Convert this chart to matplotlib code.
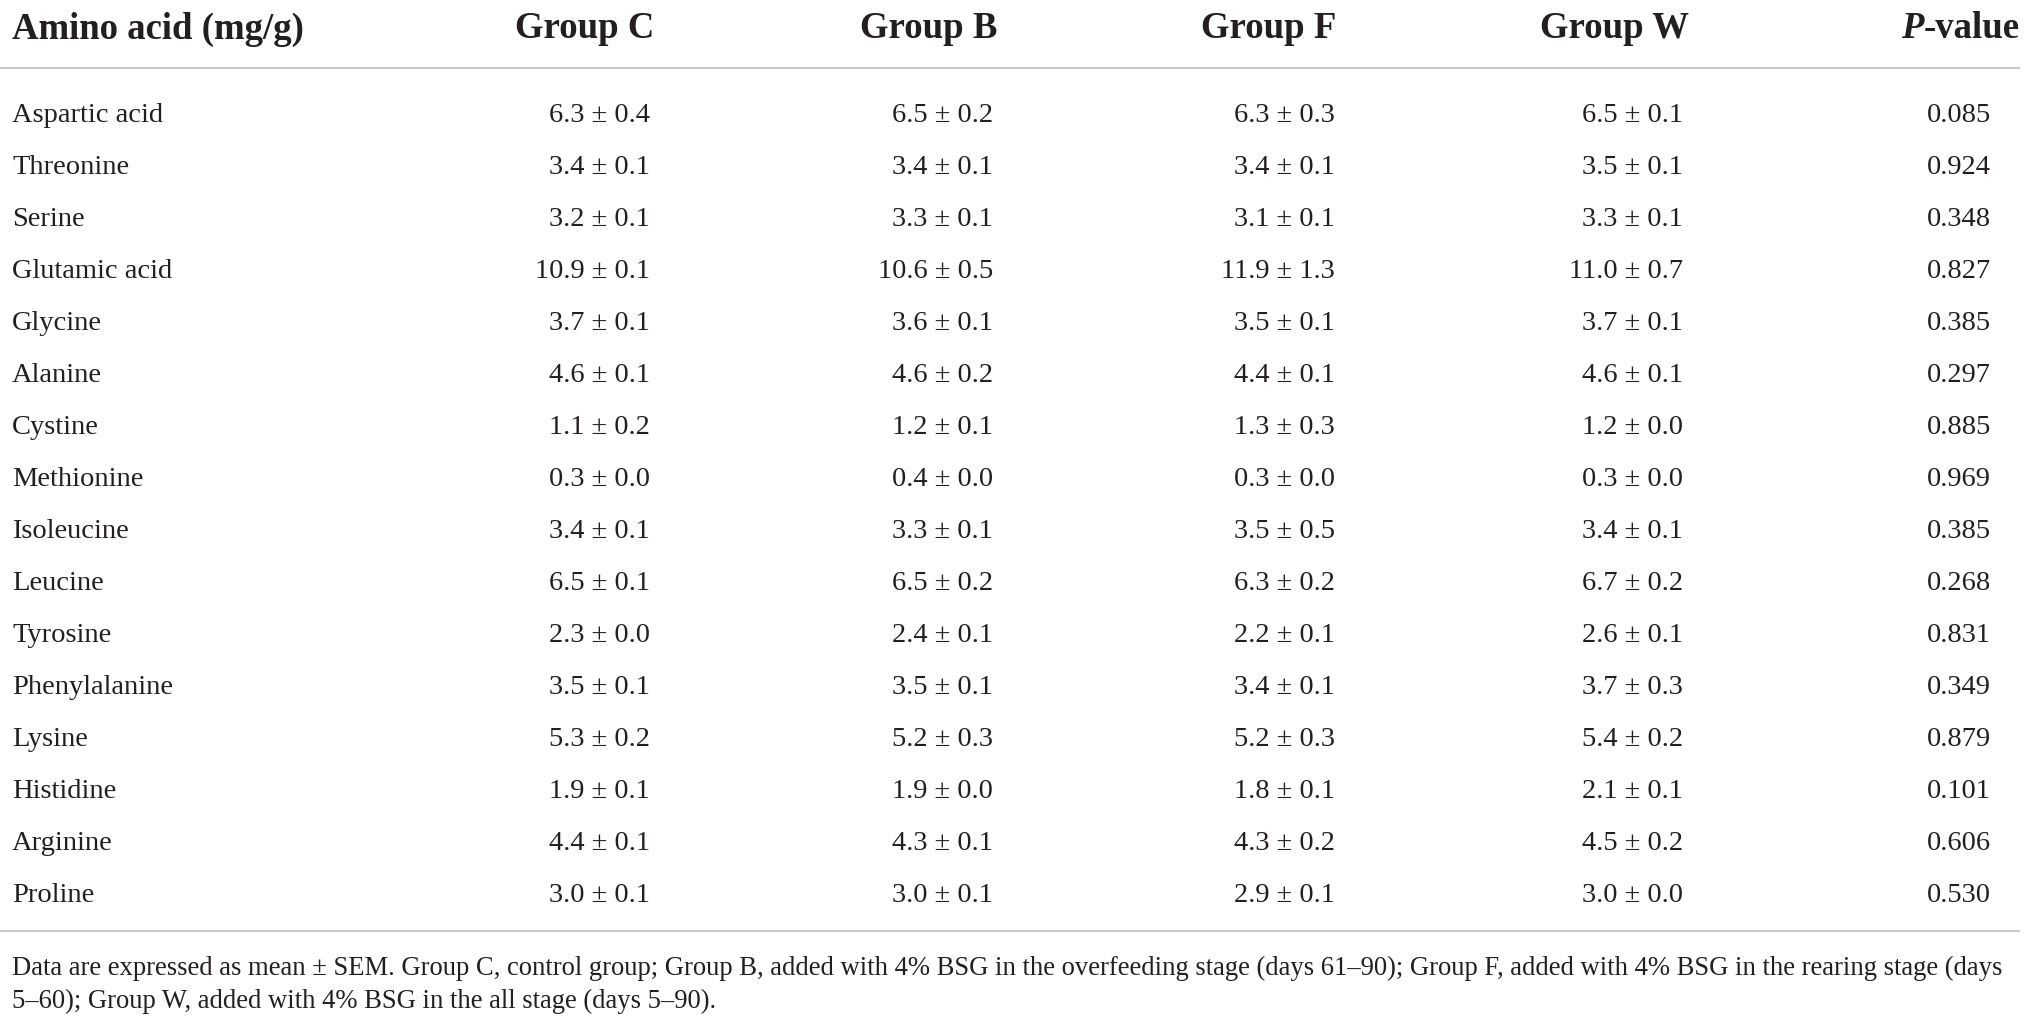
import matplotlib
matplotlib.use("Agg")
import matplotlib.pyplot as plt

W, H = 2031, 1028

headers = ["Group C", "Group B", "Group F", "Group W"]
amino_acids = ["Aspartic acid", "Threonine", "Serine", "Glutamic acid", "Glycine",
               "Alanine", "Cystine", "Methionine", "Isoleucine", "Leucine",
               "Tyrosine", "Phenylalanine", "Lysine", "Histidine", "Arginine", "Proline"]
group_c = ["6.3 ± 0.4", "3.4 ± 0.1", "3.2 ± 0.1", "10.9 ± 0.1", "3.7 ± 0.1", "4.6 ± 0.1",
           "1.1 ± 0.2", "0.3 ± 0.0", "3.4 ± 0.1", "6.5 ± 0.1", "2.3 ± 0.0", "3.5 ± 0.1",
           "5.3 ± 0.2", "1.9 ± 0.1", "4.4 ± 0.1", "3.0 ± 0.1"]
group_b = ["6.5 ± 0.2", "3.4 ± 0.1", "3.3 ± 0.1", "10.6 ± 0.5", "3.6 ± 0.1", "4.6 ± 0.2",
           "1.2 ± 0.1", "0.4 ± 0.0", "3.3 ± 0.1", "6.5 ± 0.2", "2.4 ± 0.1", "3.5 ± 0.1",
           "5.2 ± 0.3", "1.9 ± 0.0", "4.3 ± 0.1", "3.0 ± 0.1"]
group_f = ["6.3 ± 0.3", "3.4 ± 0.1", "3.1 ± 0.1", "11.9 ± 1.3", "3.5 ± 0.1", "4.4 ± 0.1",
           "1.3 ± 0.3", "0.3 ± 0.0", "3.5 ± 0.5", "6.3 ± 0.2", "2.2 ± 0.1", "3.4 ± 0.1",
           "5.2 ± 0.3", "1.8 ± 0.1", "4.3 ± 0.2", "2.9 ± 0.1"]
group_w = ["6.5 ± 0.1", "3.5 ± 0.1", "3.3 ± 0.1", "11.0 ± 0.7", "3.7 ± 0.1", "4.6 ± 0.1",
           "1.2 ± 0.0", "0.3 ± 0.0", "3.4 ± 0.1", "6.7 ± 0.2", "2.6 ± 0.1", "3.7 ± 0.3",
           "5.4 ± 0.2", "2.1 ± 0.1", "4.5 ± 0.2", "3.0 ± 0.0"]
p_values = ["0.085", "0.924", "0.348", "0.827", "0.385", "0.297", "0.885", "0.969",
            "0.385", "0.268", "0.831", "0.349", "0.879", "0.101", "0.606", "0.530"]
footnote = ["Data are expressed as mean ± SEM. Group C, control group; Group B, added with 4% BSG in the overfeeding stage (days 61–90); Group F, added with 4% BSG in the rearing stage (days",
            "5–60); Group W, added with 4% BSG in the all stage (days 5–90)."]

plt.rcParams['font.family'] = ['Liberation Serif', 'DejaVu Serif']
ink = "#231f20"
rule = "#c8c8c8"

fig = plt.figure(figsize=(W / 100, H / 100), dpi=100)
ax = fig.add_axes([0, 0, 1, 1])
ax.set_xlim(0, W)
ax.set_ylim(H, 0)
ax.axis("off")

# header
hdr_size = 26.5
hy = 29
ax.text(12, hy, "Amino acid (mg/g)", fontsize=hdr_size, fontweight="bold", color=ink,
        ha="left", va="center")
hdr_x = [654, 997, 1336, 1689]
for x, h in zip(hdr_x, headers):
    ax.text(x, hy, h, fontsize=hdr_size, fontweight="bold", color=ink, ha="right", va="center")
t = ax.text(2020, hy, "-value", fontsize=hdr_size, fontweight="bold", color=ink,
            ha="right", va="center")
fig.canvas.draw()
bb = t.get_window_extent(fig.canvas.get_renderer())
ax.text(bb.x0, hy, "P", fontsize=hdr_size, fontweight="bold", fontstyle="italic", color=ink,
        ha="right", va="center")

ax.plot([0, 2020], [68, 68], color=rule, lw=1.5, solid_capstyle="butt")

# body rows
body_size = 20.5
row0, dy = 116, 52
col_x = [650, 993, 1335, 1683]
cols = [group_c, group_b, group_f, group_w]
for i, name in enumerate(amino_acids):
    y = row0 + i * dy
    ax.text(12, y, name, fontsize=body_size, color=ink, ha="left", va="center")
    for x, col in zip(col_x, cols):
        ax.text(x, y, col[i], fontsize=body_size, color=ink, ha="right", va="center")
    ax.text(1991, y, p_values[i], fontsize=body_size, color=ink, ha="right", va="center")

ax.plot([0, 2020], [931, 931], color=rule, lw=1.5, solid_capstyle="butt")

# footnote
for y, line in zip([968, 1001], footnote):
    ax.text(12, y, line, fontsize=19.2, color=ink, ha="left", va="center")

fig.savefig("out.png", dpi=100)
